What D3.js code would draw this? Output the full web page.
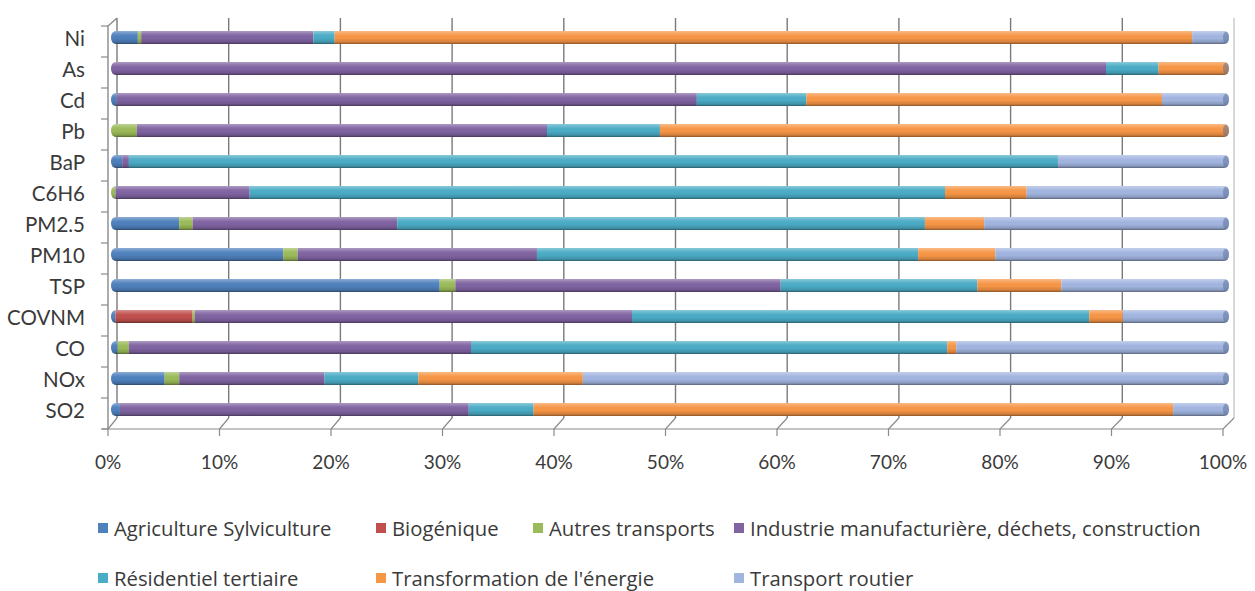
<!DOCTYPE html>
<html><head><meta charset="utf-8">
<script src="https://cdn.jsdelivr.net/npm/d3@7"></script>
<style>
html,body{margin:0;padding:0;background:#fff;}
svg{display:block;font-family:Lato,"Open Sans",sans-serif;}
</style></head>
<body>
<svg id="chart" width="1255" height="591"></svg>
<script>
// ---- Data (percent shares) ----
const categories = ["Ni","As","Cd","Pb","BaP","C6H6","PM2.5","PM10","TSP","COVNM","CO","NOx","SO2"];
const seriesNames = ["Agriculture Sylviculture","Biogénique","Autres transports","Industrie manufacturière, déchets, construction","Résidentiel tertiaire","Transformation de l'énergie","Transport routier"];
const agriculture   = [2.4, 0,   0.5, 0,   1.0, 0,    6.1, 15.4, 29.4, 0.4, 0.6, 4.8, 0.8];
const biogenique    = [0,   0,   0,   0,   0,   0,    0,   0,    0,    6.9, 0,   0,   0];
const autresTransp  = [0.3, 0,   0,   2.3, 0,   0.4,  1.2, 1.3,  1.4,  0.2, 1.0, 1.3, 0];
const industrie     = [15.4,89.0,51.9,36.7,0.6, 12.0, 18.3,21.4, 29.1, 39.1,30.6,13.0,31.2];
const residentiel   = [1.9, 4.7, 9.8, 10.1,83.1,62.2, 47.2,34.1, 17.6, 40.9,42.6,8.4, 5.8];
const transformation= [76.7,6.3, 31.8,50.9,0,   7.3,  5.3, 6.9,  7.5,  3.0, 0.8, 14.7,57.2];
const routier       = [3.3, 0,   6.0, 0,   15.3,18.1, 21.9,20.9, 15.0, 9.5, 24.4,57.8,5.0];
const tickValues = [0,10,20,30,40,50,60,70,80,90,100];
const colors = ["#4F81BD","#C0504D","#9BBB59","#8064A2","#4BACC6","#F79646","#A2B5E0"];

const seriesArrays = [agriculture,biogenique,autresTransp,industrie,residentiel,transformation,routier];
const rows = categories.map((c,i)=>{
  const r = {cat:c};
  seriesNames.forEach((s,j)=>{ r[s]=seriesArrays[j][i]; });
  return r;
});
const stacked = d3.stack().keys(seriesNames)(rows);

const svg = d3.select("#chart");
const defs = svg.append("defs");

// scales
const xBar   = d3.scaleLinear().domain([0,100]).range([111,1229]);
const xFront = d3.scaleLinear().domain([0,100]).range([108,1223]);
const xBack  = d3.scaleLinear().domain([0,100]).range([117,1234]);
const yBar   = d3.scaleBand().domain(categories).range([22,425]);
const yFront = d3.scaleBand().domain(categories).range([26,429]);
const backTop = 18, backBottom = 418, frontBottom = 429;

const axisColor = "#8a8a8a";
const g = svg.append("g");

// back wall gridlines
g.selectAll("line.grid").data(tickValues).join("line")
  .attr("x1",d=>xBack(d)).attr("x2",d=>xBack(d))
  .attr("y1",backTop).attr("y2",backBottom)
  .attr("stroke",d=>d===100?"#b0b0b0":"#7a7a7a").attr("stroke-width",d=>d===100?1:1.4);

// floor connectors + front ticks
g.selectAll("path.floor").data(tickValues).join("path")
  .attr("d",d=>`M${xBack(d)},${backBottom} L${xFront(d)},${frontBottom} L${xFront(d)},${frontBottom+7}`)
  .attr("fill","none").attr("stroke",axisColor).attr("stroke-width",1.2);
g.append("line").attr("x1",xFront(0)-6).attr("x2",xFront(100))
  .attr("y1",frontBottom).attr("y2",frontBottom).attr("stroke",axisColor).attr("stroke-width",1.2);

// left wall
g.append("path")
  .attr("d",`M${xBack(0)},${backTop} L${xFront(0)},${yFront.range()[0]} L${xFront(0)},${frontBottom}`)
  .attr("fill","none").attr("stroke",axisColor).attr("stroke-width",1.4);
const bounds = categories.map(c=>yFront(c)).concat([yFront.range()[1]]);
g.selectAll("line.ytick").data(bounds).join("line")
  .attr("x1",xFront(0)-7).attr("x2",xFront(0))
  .attr("y1",d=>d).attr("y2",d=>d).attr("stroke",axisColor).attr("stroke-width",1.2);

// bar gradient
const grad = defs.append("linearGradient").attr("id","cyl").attr("x1",0).attr("x2",0).attr("y1",0).attr("y2",1);
[[0,"#ffffff",0.35],[0.3,"#ffffff",0.05],[0.55,"#000000",0],[0.85,"#000000",0.15],[1,"#000000",0.45]]
  .forEach(([o,c,a])=>grad.append("stop").attr("offset",o).attr("stop-color",c).attr("stop-opacity",a));

const barH = 13;
const barY = c => yBar(c) + yBar.bandwidth()/2 - barH/2;
categories.forEach((c,i)=>{
  defs.append("clipPath").attr("id","clip"+i).append("rect")
    .attr("x",xBar(0)).attr("y",barY(c)).attr("width",xBar(100)-xBar(0)).attr("height",barH)
    .attr("rx",5).attr("ry",6);
});

const barsG = g.append("g");
stacked.forEach((s,j)=>{
  barsG.append("g").attr("fill",colors[j])
    .selectAll("rect").data(s.map((d,i)=>({d,i}))).join("rect")
    .attr("clip-path",e=>`url(#clip${e.i})`)
    .attr("x",e=>xBar(e.d[0])).attr("width",e=>Math.max(0,xBar(e.d[1])-xBar(e.d[0])))
    .attr("y",e=>barY(categories[e.i])).attr("height",barH);
});
barsG.append("g").selectAll("rect").data(categories).join("rect")
  .attr("x",xBar(0)).attr("width",xBar(100)-xBar(0))
  .attr("y",c=>barY(c)).attr("height",barH).attr("rx",5).attr("ry",6)
  .attr("fill","url(#cyl)");
// end cap shading
barsG.append("g").selectAll("ellipse").data(categories).join("ellipse")
  .attr("cx",xBar(100)-3).attr("cy",c=>barY(c)+barH/2).attr("rx",3).attr("ry",barH/2-0.5)
  .attr("fill","#5a6e9a").attr("opacity",0.5);

// category labels
g.selectAll("text.cat").data(categories).join("text")
  .attr("x",85).attr("y",c=>yBar(c)+yBar.bandwidth()/2)
  .attr("text-anchor","end").attr("dominant-baseline","central")
  .attr("font-size",20.5).attr("fill","#3a3a3a").text(c=>c);

// x tick labels
g.selectAll("text.xt").data(tickValues).join("text")
  .attr("x",d=>xFront(d)).attr("y",461)
  .attr("text-anchor","middle").attr("dominant-baseline","central")
  .attr("font-size",19).attr("fill","#3a3a3a").text(d=>d+"%");

// legend
const legendPos = [[98,528],[376,528],[533,528],[734,528],[98,578],[376,578],[734,578]];
const lg = svg.append("g").selectAll("g").data(seriesNames).join("g")
  .attr("transform",(d,i)=>`translate(${legendPos[i][0]},${legendPos[i][1]})`);
lg.append("rect").attr("x",0).attr("y",-5).attr("width",10).attr("height",10).attr("fill",(d,i)=>colors[i]);
lg.append("text").attr("x",16).attr("y",0).attr("dominant-baseline","central")
  .attr("font-family","'Open Sans',Lato,sans-serif")
  .attr("font-size",20.3).attr("fill","#3a3a3a").text(d=>d);
</script>
</body></html>
